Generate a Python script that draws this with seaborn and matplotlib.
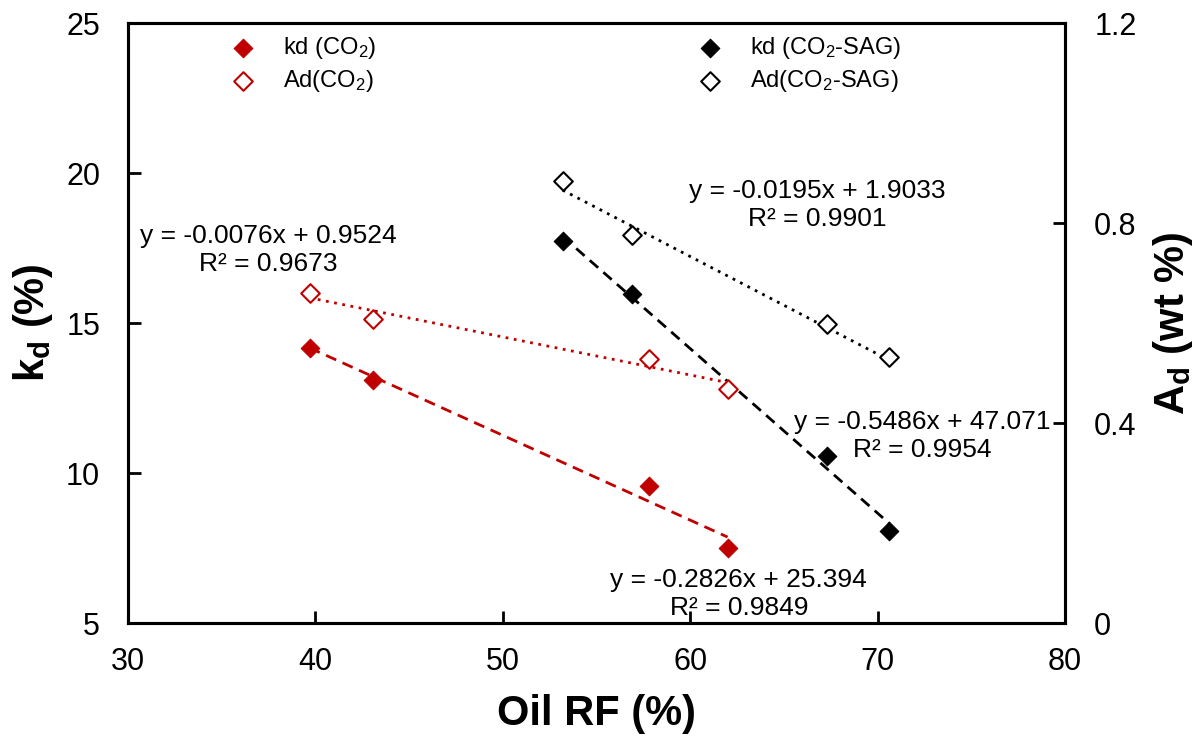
import numpy as np
import pandas as pd
import matplotlib
matplotlib.use("Agg")
import matplotlib.pyplot as plt
import seaborn as sns
from matplotlib.ticker import FuncFormatter

# ---- data ----
rf_co2 = [39.7, 43.1, 57.8, 62.0]
kd_co2 = [14.18, 13.09, 9.59, 7.50]
ad_co2 = [0.661, 0.609, 0.529, 0.469]

rf_sag = [53.2, 56.9, 67.3, 70.6]
kd_sag = [17.75, 15.98, 10.59, 8.06]
ad_sag = [0.885, 0.777, 0.599, 0.533]

# trendline coefficients printed on the chart (slope, intercept, R2)
fit_kd_co2 = (-0.2826, 25.394, 0.9849)
fit_ad_co2 = (-0.0076, 0.9524, 0.9673)
fit_kd_sag = (-0.5486, 47.071, 0.9954)
fit_ad_sag = (-0.0195, 1.9033, 0.9901)

red = "#C00000"

sns.set_style("white")
plt.rcParams["font.family"] = ["Liberation Sans", "DejaVu Sans"]
plt.rcParams["mathtext.fontset"] = "custom"
plt.rcParams["mathtext.rm"] = "Liberation Sans"
plt.rcParams["mathtext.it"] = "Liberation Sans:italic"
plt.rcParams["mathtext.bf"] = "Liberation Sans:bold"
plt.rcParams["text.color"] = "black"
plt.rcParams["axes.labelcolor"] = "black"
plt.rcParams["xtick.color"] = "black"
plt.rcParams["ytick.color"] = "black"

fig = plt.figure(figsize=(12, 7.42), dpi=100)
ax = fig.add_axes([0.1065, 0.160, 0.781, 0.809])
ax2 = ax.twinx()


def trend(xs, fit):
    x = np.array([min(xs), max(xs)])
    return pd.DataFrame({"x": x, "y": fit[0] * x + fit[1]})


# trend lines
t = trend(rf_co2, fit_kd_co2)
sns.lineplot(data=t, x="x", y="y", ax=ax, color=red, lw=2, dashes=(4, 2.5), zorder=2)
t = trend(rf_sag, fit_kd_sag)
sns.lineplot(data=t, x="x", y="y", ax=ax, color="black", lw=2, dashes=(4, 2.5), zorder=2)
t = trend(rf_co2, fit_ad_co2)
sns.lineplot(data=t, x="x", y="y", ax=ax2, color=red, lw=2, dashes=(1, 2), zorder=2)
t = trend(rf_sag, fit_ad_sag)
sns.lineplot(data=t, x="x", y="y", ax=ax2, color="black", lw=2, dashes=(1, 2), zorder=2)

# markers
msize = 90
sns.scatterplot(x=rf_co2, y=kd_co2, ax=ax, marker="D", s=msize, color=red,
                edgecolor=red, label="kd (CO$_2$)", zorder=3)
sns.scatterplot(x=rf_sag, y=kd_sag, ax=ax, marker="D", s=msize, color="black",
                edgecolor="black", label="kd (CO$_2$-SAG)", zorder=3)
sns.scatterplot(x=rf_co2, y=ad_co2, ax=ax2, marker="D", s=msize, facecolor="white",
                edgecolor=red, linewidth=1.5, label="Ad(CO$_2$)", zorder=3)
sns.scatterplot(x=rf_sag, y=ad_sag, ax=ax2, marker="D", s=msize, facecolor="white",
                edgecolor="black", linewidth=1.5, label="Ad(CO$_2$-SAG)", zorder=3)

ax.set_xlim(30, 80)
ax.set_ylim(5, 25)
ax2.set_ylim(0, 1.2)
ax.set_xticks(range(30, 81, 10))
ax.set_yticks(range(5, 26, 5))
ax2.set_yticks([0, 0.4, 0.8, 1.2])
ax2.yaxis.set_major_formatter(FuncFormatter(lambda v, p: f"{v:g}"))

for a in (ax, ax2):
    for s in a.spines.values():
        s.set_linewidth(2.2)
        s.set_color("black")
ax.tick_params(axis="x", which="major", bottom=True, direction="in", length=9,
               width=2, labelsize=22, pad=17)
ax.tick_params(axis="y", which="major", left=True, right=False, direction="in",
               length=9, width=2, labelsize=22, pad=20)
ax2.tick_params(axis="y", which="major", right=True, left=False, direction="in",
                length=9, width=2, labelsize=22, pad=21)

ax.set_xlabel("Oil RF (%)", fontsize=30, fontweight="bold", labelpad=12)
ax.set_ylabel(r"k$_\mathbf{d}$ (%)", fontsize=30, fontweight="bold", labelpad=8)
ax2.set_ylabel(r"A$_\mathbf{d}$ (wt %)", fontsize=30, fontweight="bold", labelpad=10)

# equations
def eq(x, y, fit, a):
    a.text(x, y, f"y = {fit[0]:g}x + {fit[1]:g}\nR² = {fit[2]:.4f}", ha="center",
           va="center", fontsize=19, linespacing=1.2, zorder=4)

eq(37.5, 17.45, fit_ad_co2, ax)
eq(66.8, 18.93, fit_ad_sag, ax)
eq(72.4, 11.24, fit_kd_sag, ax)
eq(62.6, 5.97, fit_kd_co2, ax)

# legend: combine both axes, column-wise order
h1, l1 = ax.get_legend_handles_labels()
h2, l2 = ax2.get_legend_handles_labels()
ax.get_legend().remove()
ax2.get_legend().remove()
handles = [h1[0], h2[0], h1[1], h2[1]]
labels = [l1[0], l2[0], l1[1], l2[1]]
ax2.legend(handles, labels, ncol=2, loc="upper left", bbox_to_anchor=(0.088, 1.015),
           frameon=False, fontsize=17, columnspacing=13.6, handletextpad=1.2,
           labelspacing=0.3, handlelength=1.0)

fig.savefig("out.png", dpi=100)
